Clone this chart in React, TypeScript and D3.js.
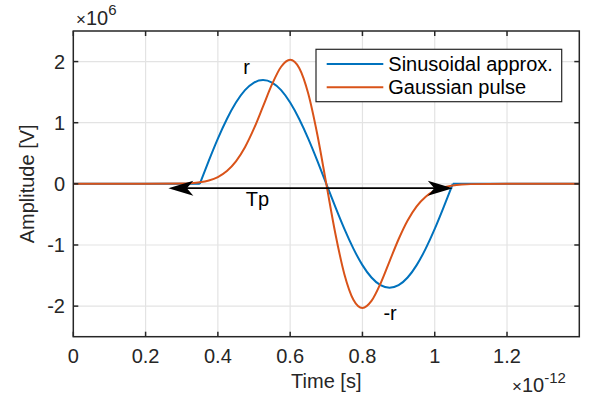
import React from "react";
import * as d3 from "d3";

// ---- Data (time in 1e-12 s, amplitude in 1e6 V) ----
const sineTime = [0.35, 0.375, 0.4, 0.425, 0.45, 0.475, 0.5, 0.525, 0.55, 0.575, 0.6, 0.625, 0.65, 0.675, 0.7,
  0.725, 0.75, 0.775, 0.8, 0.825, 0.85, 0.875, 0.9, 0.925, 0.95, 0.975, 1.0, 1.025, 1.05];
const sineValues = [0, 0.378, 0.738, 1.06, 1.329, 1.532, 1.657, 1.7, 1.657, 1.532, 1.329, 1.06, 0.738, 0.378, 0,
  -0.378, -0.738, -1.06, -1.329, -1.532, -1.657, -1.7, -1.657, -1.532, -1.329, -1.06, -0.738, -0.378, 0];
const flatLeftTime = [0, 0.35];
const flatRightTime = [1.05, 1.4];

const gaussTime = [0, 0.2, 0.3, 0.325, 0.35, 0.375, 0.4, 0.425, 0.45, 0.475, 0.5, 0.525, 0.55, 0.575, 0.6, 0.625,
  0.65, 0.675, 0.7, 0.725, 0.75, 0.775, 0.8, 0.825, 0.85, 0.875, 0.9, 0.925, 0.95, 0.975, 1.0, 1.025, 1.05, 1.075,
  1.1, 1.2, 1.4];
const gaussValues = [0, 0, 0.0045, 0.0111, 0.0256, 0.0553, 0.1115, 0.2098, 0.3677, 0.5992, 0.9059, 1.2667, 1.6299,
  1.9155, 2.03, 1.8948, 1.4769, 0.811, 0, -0.811, -1.4769, -1.8948, -2.03, -1.9155, -1.6299, -1.2667, -0.9059,
  -0.5992, -0.3677, -0.2098, -0.1115, -0.0553, -0.0256, -0.0111, -0.0045, 0, 0];

const xTicks = [0, 0.2, 0.4, 0.6, 0.8, 1, 1.2];
const xTickLabels = ["0", "0.2", "0.4", "0.6", "0.8", "1", "1.2"];
const yTicks = [-2, -1, 0, 1, 2];
const yTickLabels = ["-2", "-1", "0", "1", "2"];

const seriesNames = ["Sinusoidal approx.", "Gaussian pulse"];
const seriesColors = ["#0072BD", "#D95319"];

const arrowX = [0.263, 1.05];
const arrowY = -0.07;
const annotR = { t: 0.47, v: 1.8 };
const annotNegR = { t: 0.858, v: -2.23 };
const annotTp = { t: 0.477, v: -0.37 };

const W = 596, H = 403;
const M = { left: 73.3, right: 16.7, top: 31, bottom: 66.3 };
const FONT = "'Liberation Sans', Arial, Helvetica, sans-serif";

export default function App() {
  const x = d3.scaleLinear().domain([0, 1.4]).range([M.left, W - M.right]);
  const y = d3.scaleLinear().domain([-2.5, 2.5]).range([H - M.bottom, M.top]);
  const lin = d3.line<[number, number]>().x(d => x(d[0])).y(d => y(d[1]));
  const nat = d3.line<[number, number]>().x(d => x(d[0])).y(d => y(d[1])).curve(d3.curveNatural);
  const mono = d3.line<[number, number]>().x(d => x(d[0])).y(d => y(d[1])).curve(d3.curveMonotoneX);

  const blueD =
    (lin(flatLeftTime.map(t => [t, 0] as [number, number])) || "") +
    (nat(sineTime.map((t, i) => [t, sineValues[i]] as [number, number])) || "") +
    (lin(flatRightTime.map(t => [t, 0] as [number, number])) || "");
  const orangeD = mono(gaussTime.map((t, i) => [t, gaussValues[i]] as [number, number])) || "";

  const x0 = M.left, x1 = W - M.right, y0 = M.top, y1 = H - M.bottom;
  const axisColor = "#262626";
  const tickLen = 5;

  const ax0 = x(arrowX[0]), ax1 = x(arrowX[1]), ay = y(arrowY);
  const hl = 25, hw = 7.5, notch = 6.5;
  const leftHead = `M${ax0},${ay} L${ax0 + hl},${ay - hw} L${ax0 + hl - notch},${ay} L${ax0 + hl},${ay + hw} Z`;
  const rightHead = `M${ax1},${ay} L${ax1 - hl},${ay - hw} L${ax1 - hl + notch},${ay} L${ax1 - hl},${ay + hw} Z`;

  const legX = 316, legY = 49.3, legW = 245.7, legH = 52.4;

  return (
    <svg width={W} height={H} style={{ position: "absolute", left: 0, top: 0, background: "#fff" }}
      fontFamily={FONT}>
      <rect x={0} y={0} width={W} height={H} fill="#fff" />
      <defs>
        <clipPath id="plotclip"><rect x={x0} y={y0} width={x1 - x0} height={y1 - y0} /></clipPath>
      </defs>
      {/* grid */}
      {xTicks.map((t, i) => i > 0 && (
        <line key={"gx" + i} x1={x(t)} x2={x(t)} y1={y0} y2={y1} stroke="#e3e3e3" strokeWidth={1.2} />
      ))}
      {yTicks.map((t, i) => (
        <line key={"gy" + i} x1={x0} x2={x1} y1={y(t)} y2={y(t)} stroke="#e3e3e3" strokeWidth={1.2} />
      ))}
      {/* series */}
      <g clipPath="url(#plotclip)">
        <path d={blueD} fill="none" stroke={seriesColors[0]} strokeWidth={2} strokeLinejoin="round" />
        <path d={orangeD} fill="none" stroke={seriesColors[1]} strokeWidth={2} strokeLinejoin="round" />
      </g>
      {/* arrow */}
      <line x1={ax0 + 10} x2={ax1 - 10} y1={ay} y2={ay} stroke="#000" strokeWidth={1.6} />
      <path d={leftHead} fill="#000" />
      <path d={rightHead} fill="#000" />
      {/* annotations */}
      <text x={x(annotR.t)} y={y(annotR.v)} fontSize={20} fill="#000">r</text>
      <text x={x(annotNegR.t)} y={y(annotNegR.v)} fontSize={20} fill="#000">-r</text>
      <text x={x(annotTp.t)} y={y(annotTp.v)} fontSize={20} fill="#000">Tp</text>
      {/* axes box */}
      <rect x={x0} y={y0} width={x1 - x0} height={y1 - y0} fill="none" stroke={axisColor} strokeWidth={1.5} />
      {/* ticks */}
      {xTicks.map((t, i) => (
        <g key={"tx" + i}>
          <line x1={x(t)} x2={x(t)} y1={y1} y2={y1 - tickLen} stroke={axisColor} strokeWidth={1.5} />
          <line x1={x(t)} x2={x(t)} y1={y0} y2={y0 + tickLen} stroke={axisColor} strokeWidth={1.5} />
          <text x={x(t)} y={362.7} fontSize={20} textAnchor="middle" fill={axisColor}>{xTickLabels[i]}</text>
        </g>
      ))}
      {yTicks.map((t, i) => (
        <g key={"ty" + i}>
          <line x1={x0} x2={x0 + tickLen} y1={y(t)} y2={y(t)} stroke={axisColor} strokeWidth={1.5} />
          <line x1={x1} x2={x1 - tickLen} y1={y(t)} y2={y(t)} stroke={axisColor} strokeWidth={1.5} />
          <text x={65} y={y(t)} dy="0.35em" fontSize={20} textAnchor="end" fill={axisColor}>{yTickLabels[i]}</text>
        </g>
      ))}
      {/* exponents */}
      <text x={76} y={25} fontSize={20} fill={axisColor}>
        <tspan fontSize={17}>×</tspan><tspan>10</tspan><tspan fontSize={15} dy={-10}>6</tspan>
      </text>
      <text x={512} y={391.7} fontSize={20} fill={axisColor}>
        <tspan fontSize={17}>×</tspan><tspan>10</tspan><tspan fontSize={15} dy={-9}>-12</tspan>
      </text>
      {/* axis labels */}
      <text x={(x0 + x1) / 2} y={388} fontSize={20} textAnchor="middle" fill={axisColor}>Time [s]</text>
      <text transform={`translate(34,${(y0 + y1) / 2}) rotate(-90)`} fontSize={20} textAnchor="middle"
        fill={axisColor}>Amplitude [V]</text>
      {/* legend */}
      <rect x={legX} y={legY} width={legW} height={legH} fill="#fff" stroke="#262626" strokeWidth={1.2} />
      {seriesNames.map((n, i) => (
        <g key={"lg" + i}>
          <line x1={326.7} x2={383.3} y1={64 + i * 23.3} y2={64 + i * 23.3} stroke={seriesColors[i]} strokeWidth={2} />
          <text x={388.3} y={64 + i * 23.3} dy="0.35em" fontSize={20} fill="#000">{n}</text>
        </g>
      ))}
    </svg>
  );
}
